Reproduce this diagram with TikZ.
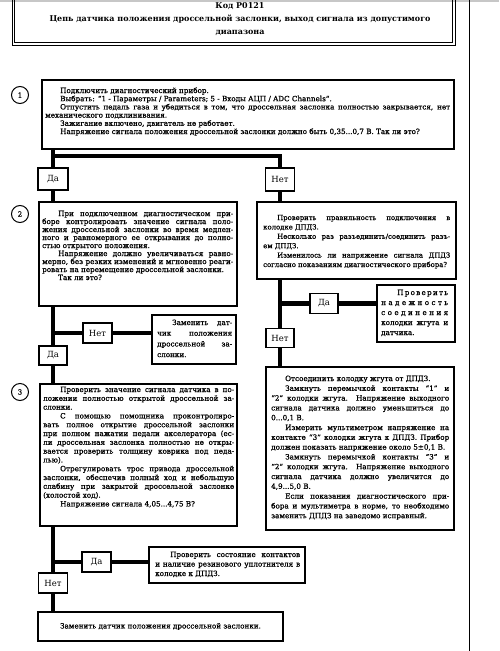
\documentclass[tikz,border=0pt]{standalone}
\usepackage{fontspec}
\setmainfont{DejaVu Serif}
\newfontfamily\bodyf{DejaVu Serif}[FakeBold=0.9]
\hyphenpenalty=10000
\tolerance=10000
\hbadness=10000
\hfuzz=20pt
\newcommand{\ind}{\hspace*{15pt}}
\begin{document}
\begin{tikzpicture}[x=1pt,y=-1pt,
  box/.style={draw, line width=1.2pt, fill=white, inner sep=0pt},
  yn/.style={draw, line width=1.1pt, fill=white, inner sep=0pt, font=\fontsize{8.5}{10}\selectfont},
  txt/.style={inner sep=0pt, anchor=base west, align=justify},
  conn/.style={line width=4.3pt},
  num/.style={draw, circle, line width=1pt, minimum size=17pt, inner sep=0pt, font=\bodyf\fontsize{7}{8}\selectfont}
]
\useasboundingbox (0,0) rectangle (499,651);
\fill[black!22] (0,0) rectangle (499,2);
% page edge line
\draw[line width=0.9pt] (469,0) -- (469,651);
% title frame
\draw[line width=0.9pt] (12,-10) rectangle (455,45);
\draw[line width=0.9pt] (14.3,-10) rectangle (452.7,42.7);
\node[inner sep=0pt, anchor=base, font=\bfseries\fontsize{8}{10}\selectfont] (ttl1) at (240,8) {Код P0121};
\node[inner sep=0pt, anchor=base, font=\bfseries\fontsize{8}{10}\selectfont] (ttl2) at (240,21) {Цепь датчика положения дроссельной заслонки, выход сигнала из допустимого};
\node[inner sep=0pt, anchor=base, font=\bfseries\fontsize{8}{10}\selectfont] (ttl3) at (240,34) {диапазона};

% circles
\node[num] (c1) at (20,95) {1};
\node[num] (c2) at (20,214) {2};
\node[num] (c3) at (20,392) {3};

% boxes
\node[box, minimum width=412pt, minimum height=69pt] (b1) at (248,114.5) {};
\node[box, minimum width=198pt, minimum height=104pt] (b2) at (138,254) {};
\node[box, minimum width=199pt, minimum height=77pt] (b3) at (356.5,240.5) {};
\node[box, minimum width=78pt, minimum height=57pt] (nad) at (416,313.5) {};
\node[box, minimum width=188pt, minimum height=163pt] (b5) at (360,448.5) {};
\node[box, minimum width=84pt, minimum height=49pt] (zam) at (194,339.5) {};
\node[box, minimum width=197pt, minimum height=142pt] (b4) at (138.5,455) {};
\node[box, minimum width=156pt, minimum height=36pt] (sost) at (227,565) {};
\node[box, minimum width=245pt, minimum height=29pt, font=\bodyf\fontsize{7.2}{8}\selectfont] (fin) at (160.5,626.5) {Заменить датчик положения дроссельной заслонки.};

% yes/no boxes
\node[yn, minimum width=30pt, minimum height=22pt] (da1) at (53,179) {Да};
\node[yn, minimum width=29pt, minimum height=23pt] (net1) at (280,179.5) {Нет};
\node[yn, minimum width=28pt, minimum height=20pt] (da2) at (324,303.5) {Да};
\node[yn, minimum width=28pt, minimum height=19pt] (net2) at (280,338) {Нет};
\node[yn, minimum width=29pt, minimum height=20pt] (net3) at (97.5,333) {Нет};
\node[yn, minimum width=28pt, minimum height=19pt] (da3) at (53,355.5) {Да};
\node[yn, minimum width=29pt, minimum height=20pt] (da4) at (96.5,562) {Да};
\node[yn, minimum width=29pt, minimum height=20pt] (net4) at (53,583) {Нет};

% junction coordinates
\coordinate (h1) at (53,156);
\coordinate (h2) at (280,303.5);
\coordinate (h3) at (53,333);
\coordinate (h4) at (53,562);

% connectors
\draw[conn] (da1.north |- b1.south) -- (da1.north);
\draw[conn] (h1) -| (net1.north);
\draw[conn] (da1.south) -- (da1.south |- b2.north);
\draw[conn] (net1.south) -- (net1.south |- b3.north);
\draw[conn] (net2.north |- b3.south) -- (net2.north);
\draw[conn] (h2) -- (da2.west);
\draw[conn] (da2.east) -- (nad.west |- da2.east);
\draw[conn] (net2.south) -- (net2.south |- b5.north);
\draw[conn] (da3.north |- b2.south) -- (da3.north);
\draw[conn] (h3) -- (net3.west);
\draw[conn] (net3.east) -- (zam.west |- net3.east);
\draw[conn] (da3.south) -- (da3.south |- b4.north);
\draw[conn] (net4.north |- b4.south) -- (net4.north);
\draw[conn] (h4) -- (da4.west);
\draw[conn] (da4.east) -- (sost.west |- da4.east);
\draw[conn] (net4.south) -- (net4.south |- fin.north);

% texts
\node[txt, text width=405pt, font=\bodyf\fontsize{7.2}{8.2}\selectfont] (t1) at (45,93) {%
\ind Подключить диагностический прибор.\par
\ind Выбрать: “1 - Параметры / Parameters; 5 - Входы АЦП / ADC Channels”.\par
\ind Отпустить педаль газа и убедиться в том, что дроссельная заслонка полностью закрывается, нет\linebreak механического подклинивания.\par
\ind Зажигание включено, двигатель не работает.\par
\ind Напряжение сигнала положения дроссельной заслонки должно быть 0,35...0,7 В. Так ли это?};

\node[txt, text width=191pt, font=\bodyf\fontsize{7.2}{8.0}\selectfont] (t2) at (42,216) {%
\hspace*{16pt}При подключенном диагностическом при-\linebreak боре контролировать значение сигнала поло-\linebreak жения дроссельной заслонки во время медлен-\linebreak ного и равномерного ее открывания до полно-\linebreak стью открытого положения.\par
\hspace*{16pt}Напряжение должно увеличиваться равно-\linebreak мерно, без резких изменений и мгновенно реаги-\linebreak ровать на перемещение дроссельной заслонки.\par
\hspace*{16pt}Так ли это?};

\node[txt, text width=187pt, font=\bodyf\fontsize{6.9}{9.4}\selectfont] (t3) at (263,220) {%
\hspace*{14pt}Проверить правильность подключения в\linebreak колодке ДПДЗ.\par
\hspace*{14pt}Несколько раз разъединить/соединить разъ-\linebreak ем ДПДЗ.\par
\hspace*{14pt}Изменилось ли напряжение сигнала ДПДЗ\linebreak согласно показаниям диагностического прибора?};

\node[inner sep=0pt, anchor=base west, align=left, text width=67pt, font=\bodyf\fontsize{7.2}{10}\selectfont] (tnad) at (381,295) {%
\hspace*{16pt}\makebox[51pt][s]{П\hfill р\hfill о\hfill в\hfill е\hfill р\hfill и\hfill т\hfill ь}\\
\makebox[67pt][s]{н\hfill а\hfill д\hfill е\hfill ж\hfill н\hfill о\hfill с\hfill т\hfill ь}\\
\makebox[67pt][s]{с\hfill о\hfill е\hfill д\hfill и\hfill н\hfill е\hfill н\hfill и\hfill я}\\
\makebox[67pt][s]{колодки\hfill жгута\hfill и}\\
датчика.};

\node[txt, text width=75pt, font=\bodyf\fontsize{7.2}{10.7}\selectfont] (tzam) at (157,325) {%
\ind Заменить дат-\linebreak чик положения\linebreak дроссельной за-\linebreak слонки.};

\node[txt, text width=178pt, font=\bodyf\fontsize{7.2}{9.8}\selectfont] (t5) at (271,381) {%
\hspace*{14pt}Отсоединить колодку жгута от ДПДЗ.\par
\hspace*{14pt}Замкнуть перемычкой контакты “1” и\linebreak “2” колодки жгута. Напряжение выходного\linebreak сигнала датчика должно уменьшиться до\linebreak 0...0,1 В.\par
\hspace*{14pt}Измерить мультиметром напряжение на\linebreak контакте “3” колодки жгута к ДПДЗ. Прибор\linebreak должен показать напряжение около 5±0,1 В.\par
\hspace*{14pt}Замкнуть перемычкой контакты “3” и\linebreak “2” колодки жгута. Напряжение выходного\linebreak сигнала датчика должно увеличится до\linebreak 4,9...5,0 В.\par
\hspace*{14pt}Если показания диагностического при-\linebreak бора и мультиметра в норме, то необходимо\linebreak заменить ДПДЗ на заведомо исправный.};

\node[txt, text width=191pt, font=\bodyf\fontsize{7.2}{8.8}\selectfont] (t4) at (43,392) {%
\hspace*{17pt}Проверить значение сигнала датчика в по-\linebreak ложении полностью открытой дроссельной за-\linebreak слонки.\par
\hspace*{17pt}С помощью помощника проконтролиро-\linebreak вать полное открытие дроссельной заслонки\linebreak при полном нажатии педали акселератора (ес-\linebreak ли дроссельная заслонка полностью не откры-\linebreak вается проверить толщину коврика под педа-\linebreak лью).\par
\hspace*{17pt}Отрегулировать трос привода дроссельной\linebreak заслонки, обеспечив полный ход и небольшую\linebreak слабину при закрытой дроссельной заслонке\linebreak (холостой ход).\par
\hspace*{17pt}Напряжение сигнала 4,05...4,75 В?};

\node[txt, text width=145pt, font=\bodyf\fontsize{7.2}{9.5}\selectfont] (tsost) at (155,557) {%
\ind Проверить состояние контактов\linebreak и наличие резинового уплотнителя в\linebreak колодке к ДПДЗ.};
\end{tikzpicture}
\end{document}
